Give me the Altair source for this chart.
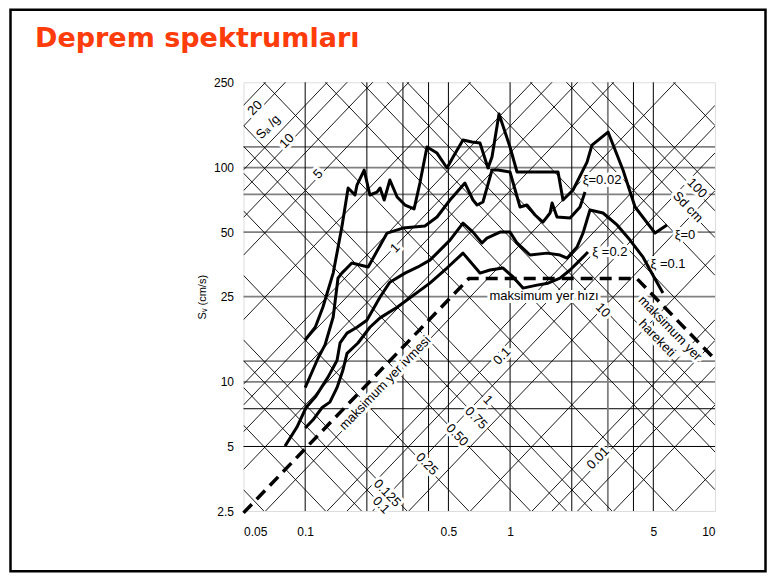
import math
import altair as alt
import pandas as pd

FONT = "Liberation Sans"
TITLE = "Deprem spektrumları"

# ---- spectrum curves: period T (s) and pseudo-velocity Sv (cm/s) ----
T_XI0 = [0.1, 0.112, 0.122, 0.137, 0.151, 0.162, 0.175, 0.179, 0.194, 0.207, 0.224, 0.232, 0.243, 0.259,
         0.281, 0.307, 0.340, 0.363, 0.393, 0.440, 0.492, 0.527, 0.589, 0.652, 0.713, 0.780, 0.816, 0.883,
         0.999, 1.081, 1.118, 1.714, 1.812, 2.028, 2.374, 2.51, 3.006, 3.556, 4.073, 5.10, 5.83]
SV_XI0 = [15.7, 18.0, 22.3, 32.2, 52.8, 80.3, 74.5, 82.9, 97.4, 74.5, 76.9, 80.3, 70.6, 87.5,
          72.9, 66.9, 64.1, 84.7, 124.8, 116.9, 99.6, 112.0, 134.5, 131.6, 130.2, 99.6, 112.0, 178.0,
          124.8, 95.4, 95.4, 95.4, 70.6, 78.6, 106.1, 127.4, 146.5, 97.4, 65.5, 49.5, 54.0]

T_XI002 = [0.1, 0.1155, 0.125, 0.137, 0.1446, 0.151, 0.169, 0.203, 0.251, 0.300, 0.384, 0.440, 0.509,
           0.602, 0.659, 0.690, 0.737, 0.816, 0.873, 0.999, 1.118, 1.209, 1.324, 1.447, 1.567, 1.603,
           1.694, 1.962, 2.194, 2.321]
SV_XI002 = [9.4, 12.9, 14.9, 20.1, 30.5, 32.2, 35.9, 34.4, 49.5, 52.2, 53.4, 58.8, 70.6,
            84.7, 70.6, 66.9, 69.1, 97.4, 97.4, 95.4, 65.5, 66.9, 60.1, 55.7, 61.4, 68.3,
            58.8, 58.2, 65.5, 76.9]

T_XI01 = [0.0797, 0.0912, 0.101, 0.112, 0.129, 0.143, 0.148, 0.160, 0.179, 0.200, 0.232, 0.259, 0.307,
          0.355, 0.406, 0.440, 0.509, 0.589, 0.659, 0.729, 0.771, 0.893, 0.999, 1.081, 1.251, 1.514,
          1.753, 1.896, 2.122, 2.269, 2.454, 2.841, 3.327, 3.848, 4.456, 4.82, 5.57]
SV_XI01 = [5.02, 6.16, 7.6, 8.5, 10.5, 12.6, 15.2, 16.9, 18.0, 19.4, 24.9, 29.2, 32.2,
           34.4, 37.0, 39.9, 45.9, 55.1, 50.0, 44.5, 46.9, 50.0, 50.0, 44.5, 39.1, 39.9,
           39.1, 37.8, 42.6, 49.5, 63.4, 61.4, 54.0, 45.9, 38.2, 33.3, 26.0]

T_XI02 = [0.1, 0.109, 0.121, 0.132, 0.143, 0.153, 0.160, 0.181, 0.207, 0.232, 0.281, 0.406, 0.492,
          0.589, 0.713, 0.798, 0.924, 1.034, 1.156, 1.353, 1.531, 1.753, 1.962, 2.194, 2.399]
SV_XI02 = [6.1, 6.64, 7.6, 8.05, 9.4, 11.4, 13.6, 15.2, 18.0, 19.9, 22.3, 28.9, 34.0,
           39.9, 32.2, 33.3, 34.0, 30.9, 27.4, 28.3, 28.9, 30.5, 33.3, 37.0, 40.4]

# ground motion bounds (dashed)
T_GROUND = [0.05, 0.63, 4.15, 9.8]
SV_GROUND = [2.45, 30.4, 30.4, 13.0]

# ---- grid ----
X_TICKS = [0.05, 0.1, 0.5, 1, 5, 10]
Y_TICKS = [2.5, 5, 10, 25, 50, 100, 250]
V_LINES = [0.1, 0.2, 0.3, 0.4, 0.5, 1, 2, 4, 5]
V_LINES_GRAY = [3]
H_LINES_GRAY = [10, 12.5, 25, 50, 75, 100, 125]
H_LINES_BLACK = [5, 7.5]
SA_LINES = [0.0025, 0.005, 0.0075, 0.01, 0.0125, 0.025, 0.05, 0.075, 0.1, 0.125, 0.25, 0.5, 0.75,
            1, 1.25, 2.5, 5, 7.5, 10, 12.5, 20, 25]
SD_LINES = [0.025, 0.05, 0.075, 0.1, 0.125, 0.25, 0.5, 0.75, 1, 1.25, 2.5, 5, 7.5, 10, 12.5,
            25, 50, 75, 100, 125, 250]

# ---- labels ----
SA_LABEL_TEXT = ["20", "Sₐ /g", "10", "5", "1", "0.1", "0.01", "maksimum yer ivmesi"]
SA_LABEL_T = [0.0569, 0.0659, 0.0815, 0.1155, 0.2745, 0.913, 2.686, 0.245]
SA_LABEL_SV = [189.7, 154.7, 133.0, 93.3, 42.1, 13.2, 4.41, 9.88]

SD_LABEL_TEXT = ["100", "Sd cm", "10", "1", "0.75", "0.50", "0.25", "0.125", "0.1", "maksimum yer", "hareketi"]
SD_LABEL_T = [8.17, 7.38, 2.84, 0.78, 0.682, 0.551, 0.393, 0.251, 0.2345, 6.03, 5.21]
SD_LABEL_SV = [80.3, 65.5, 21.6, 8.23, 6.78, 5.65, 4.14, 3.03, 2.66, 17.8, 16.0]

H_LABEL_TEXT = ["maksimum yer hızı", "ξ=0.02", "ξ=0", "ξ =0.2", "ξ =0.1"]
H_LABEL_T = [1.464, 2.81, 7.14, 3.07, 5.90]
H_LABEL_SV = [25.2, 87.5, 48.5, 40.4, 35.5]

K = 981.0 / (2 * math.pi)
T_MIN, T_MAX = 0.05, 10.0

xscale = alt.Scale(type="log", domain=[T_MIN, T_MAX], nice=False)
yscale = alt.Scale(type="log", domain=[2.5, 250], nice=False)
xaxis = alt.Axis(values=X_TICKS, format="~g", title=None, grid=False, ticks=False, domain=False,
                 labelPadding=15, labelFont=FONT, labelFontSize=12, labelColor="black")
yaxis = alt.Axis(values=Y_TICKS, format="~g", title="Sᵥ (cm/s)", grid=False, ticks=False, domain=False,
                 labelPadding=10, labelFont=FONT, labelFontSize=12, labelColor="black",
                 titleFont=FONT, titleFontSize=11, titleFontWeight="normal", titleColor="black",
                 titlePadding=6)
X = alt.X("T:Q", scale=xscale, axis=xaxis)
Y = alt.Y("Sv:Q", scale=yscale, axis=yaxis)

# data frames
curves = []
for name, ts, svs in [("0", T_XI0, SV_XI0), ("0.02", T_XI002, SV_XI002),
                      ("0.1", T_XI01, SV_XI01), ("0.2", T_XI02, SV_XI02)]:
    for i, (t, s) in enumerate(zip(ts, svs)):
        curves.append({"curve": name, "i": i, "T": t, "Sv": s})
curves = pd.DataFrame(curves)
ground = pd.DataFrame({"T": T_GROUND, "Sv": SV_GROUND, "i": range(len(T_GROUND))})

diag = []
for a in SA_LINES:
    for j, t in enumerate([T_MIN, T_MAX]):
        diag.append({"id": f"a{a}", "i": j, "T": t, "Sv": K * a * t})
for d in SD_LINES:
    for j, t in enumerate([T_MIN, T_MAX]):
        diag.append({"id": f"d{d}", "i": j, "T": t, "Sv": 2 * math.pi * d / t})
diag = pd.DataFrame(diag)

vl = pd.DataFrame({"T": V_LINES})
vlg = pd.DataFrame({"T": V_LINES_GRAY})
hlg = pd.DataFrame({"Sv": H_LINES_GRAY})
hlb = pd.DataFrame({"Sv": H_LINES_BLACK})
sa_lab = pd.DataFrame({"T": SA_LABEL_T, "Sv": SA_LABEL_SV, "txt": SA_LABEL_TEXT})
sd_lab = pd.DataFrame({"T": SD_LABEL_T, "Sv": SD_LABEL_SV, "txt": SD_LABEL_TEXT})
h_lab = pd.DataFrame({"T": H_LABEL_T, "Sv": H_LABEL_SV, "txt": H_LABEL_TEXT})

layers = [
    alt.Chart(hlg).mark_rule(color="#808080", strokeWidth=1.8).encode(y=Y),
    alt.Chart(hlb).mark_rule(color="black", strokeWidth=1).encode(y=Y),
    alt.Chart(vl).mark_rule(color="black", strokeWidth=1).encode(x=X),
    alt.Chart(vlg).mark_rule(color="#808080", strokeWidth=1.8).encode(x=X),
    alt.Chart(diag).mark_line(color="black", strokeWidth=0.9, clip=True).encode(
        x=X, y=Y, detail="id:N", order="i:Q"),
]


def texts(df, angle, halo):
    if halo:
        m = alt.Chart(df).mark_text(angle=angle, font=FONT, fontSize=13, color="white",
                                    stroke="white", strokeWidth=6)
    else:
        m = alt.Chart(df).mark_text(angle=angle, font=FONT, fontSize=13, color="black")
    return m.encode(x=X, y=Y, text="txt:N")


layers += [texts(sa_lab, 314, True), texts(sd_lab, 46, True), texts(h_lab, 0, True)]
layers += [
    alt.Chart(curves).mark_line(color="black", strokeWidth=3, strokeJoin="round").encode(
        x=X, y=Y, detail="curve:N", order="i:Q"),
    alt.Chart(ground).mark_line(color="black", strokeWidth=3.5, strokeDash=[12, 7]).encode(
        x=X, y=Y, order="i:Q"),
]
layers += [texts(sa_lab, 314, False), texts(sd_lab, 46, False), texts(h_lab, 0, False)]

# slide frame and slide title
one = pd.DataFrame({"k": [0], "txt": [TITLE]})
frame = alt.Chart(one).mark_rect(
    filled=False, stroke="black", strokeWidth=2.5).encode(
    x=alt.value(-233), x2=alt.value(522), y=alt.value(-72.5), y2=alt.value(489))
title = alt.Chart(one).mark_text(
    align="left", baseline="alphabetic", font="DejaVu Sans", fontSize=27, fontWeight="bold",
    color="#ff3c0a").encode(x=alt.value(-208.5), y=alt.value(-35.6), text="txt:N")
layers += [frame, title]

chart = alt.layer(*layers).properties(
    width=471.5, height=428.7,
    autosize=alt.AutoSizeParams(type="none"),
    padding={"left": 235.5, "top": 74.3, "right": 52, "bottom": 62},
).configure_view(stroke="black", strokeWidth=1.2).configure(background="white")

chart.save("out.html", embed_options={"renderer": "svg", "actions": False})
